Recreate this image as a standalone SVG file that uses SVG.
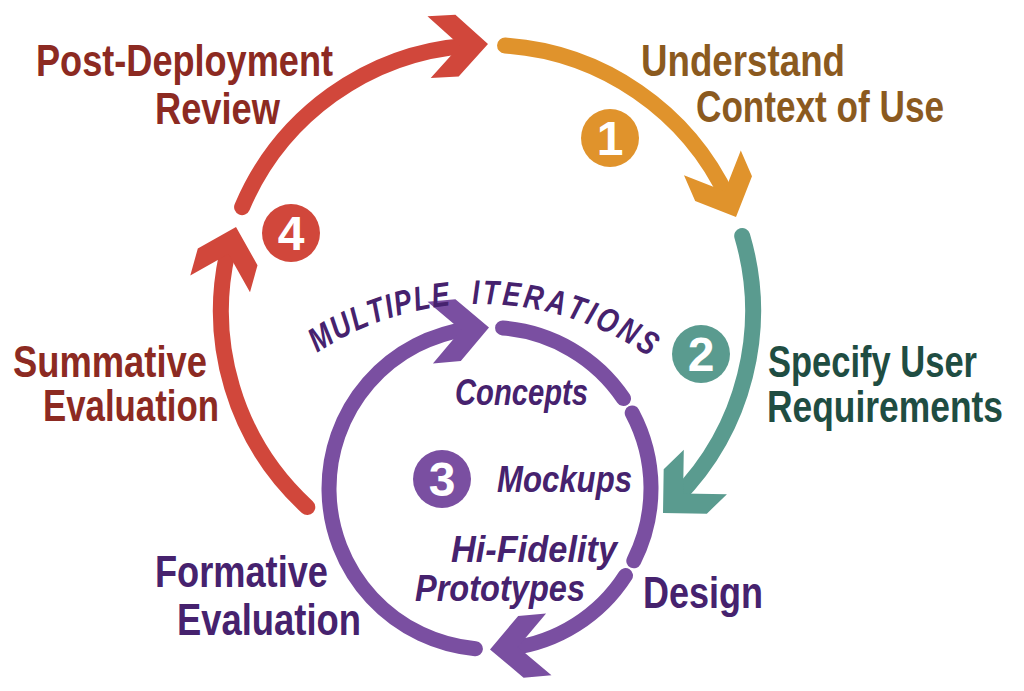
<svg xmlns="http://www.w3.org/2000/svg" xmlns:xlink="http://www.w3.org/1999/xlink" width="1024" height="691" viewBox="0 0 1024 691">
<style>
.lbl{font-family:"Liberation Sans",Arial,sans-serif;font-weight:bold;font-size:45px}
.it{font-family:"Liberation Sans",Arial,sans-serif;font-weight:bold;font-style:italic;font-size:37px;fill:#46226e}
.num{font-family:"Liberation Sans",Arial,sans-serif;font-weight:bold;font-size:48px;fill:#fff;text-anchor:middle}
.ch{font-family:"Liberation Sans",Arial,sans-serif;font-weight:bold;font-style:italic;font-size:34px;fill:#46226e;text-anchor:middle}
.arc{fill:none;stroke-width:16;stroke-linecap:round}
.parc{fill:none;stroke:#7a4fa1;stroke-width:15;stroke-linecap:round}
.red{stroke:#d1473b}.orange{stroke:#e0932c}.teal{stroke:#5a9b8f}
.dred{fill:#8c2a22}.dbrown{fill:#8b5a1f}.dgreen{fill:#1f4d42}.dpurple{fill:#46226e}
</style>
<defs>
<polygon id="head" points="0,0 -31,-31 -59,-31 -28,0 -59,31 -31,31"/>
</defs>
<rect width="1024" height="691" fill="#fff"/>
<g id="connectors">
<path class="arc orange" d="M 505.1 45.6 A 266 266 0 0 1 728.3 199.0"/>
<use href="#head" fill="#e0932c" transform="translate(736,217) rotate(66.4)"/>
<path class="arc teal" d="M 742.2 235.9 A 266 266 0 0 1 676.4 497.8"/>
<use href="#head" fill="#5a9b8f" transform="translate(663,513) rotate(135.9)"/>
<path class="arc red" d="M 307.3 507.1 A 266 266 0 0 1 229.2 245.3"/>
<use href="#head" fill="#d1473b" transform="translate(236,227) rotate(-74.4)"/>
<path class="arc red" d="M 242.1 207.1 A 266 266 0 0 1 467.1 45.7"/>
<use href="#head" fill="#d1473b" transform="translate(488,44) rotate(-3)"/>
<path class="parc" d="M 502.6 328.0 A 161 161 0 0 1 623.5 398.5"/>
<path class="parc" d="M 632.2 412.9 A 161 161 0 0 1 633.8 560.8"/>
<path class="parc" d="M 625.5 575.5 A 161 161 0 0 1 509.9 648.3"/>
<use href="#head" fill="#7a4fa1" transform="translate(490,649.5) rotate(175)"/>
<path class="parc" d="M 475.4 648.8 A 161 161 0 0 1 470.1 328.7"/>
<use href="#head" fill="#7a4fa1" transform="translate(489,327.5) rotate(-5)"/>
</g>
<g id="step1">
<circle cx="610" cy="138" r="29" fill="#e0932c"/>
<text class="num" x="610" y="155">1</text>
<text class="lbl dbrown" x="641" y="76" textLength="204" lengthAdjust="spacingAndGlyphs">Understand</text>
<text class="lbl dbrown" x="696" y="122" textLength="248" lengthAdjust="spacingAndGlyphs">Context of Use</text>
</g>
<g id="step2">
<circle cx="701" cy="354" r="29" fill="#5a9b8f"/>
<text class="num" x="701" y="371">2</text>
<text class="lbl dgreen" x="768" y="377" textLength="209" lengthAdjust="spacingAndGlyphs">Specify User</text>
<text class="lbl dgreen" x="767" y="422" textLength="236" lengthAdjust="spacingAndGlyphs">Requirements</text>
</g>
<g id="step3">
<circle cx="442" cy="479" r="29" fill="#7a4fa1"/>
<text class="num" x="442" y="496">3</text>
<text class="lbl dpurple" x="643" y="608" textLength="120" lengthAdjust="spacingAndGlyphs">Design</text>
<text class="it" x="455" y="405" textLength="133" lengthAdjust="spacingAndGlyphs">Concepts</text>
<text class="it" x="497" y="492" textLength="135" lengthAdjust="spacingAndGlyphs">Mockups</text>
<text class="it" x="451" y="562" textLength="166" lengthAdjust="spacingAndGlyphs">Hi-Fidelity</text>
<text class="it" x="415" y="601" textLength="170" lengthAdjust="spacingAndGlyphs">Prototypes</text>
</g>
<g id="iterations">
<text class="ch" transform="translate(480 600) rotate(-31.25) translate(0 -296) scale(0.78 1)">M</text>
<text class="ch" transform="translate(480 600) rotate(-26.97) translate(0 -296) scale(0.78 1)">U</text>
<text class="ch" transform="translate(480 600) rotate(-23.25) translate(0 -296) scale(0.78 1)">L</text>
<text class="ch" transform="translate(480 600) rotate(-19.83) translate(0 -296) scale(0.78 1)">T</text>
<text class="ch" transform="translate(480 600) rotate(-17.25) translate(0 -296) scale(0.78 1)">I</text>
<text class="ch" transform="translate(480 600) rotate(-14.54) translate(0 -296) scale(0.78 1)">P</text>
<text class="ch" transform="translate(480 600) rotate(-10.97) translate(0 -296) scale(0.78 1)">L</text>
<text class="ch" transform="translate(480 600) rotate(-7.4) translate(0 -296) scale(0.78 1)">E</text>
<text class="ch" transform="translate(480 600) rotate(-0.8) translate(0 -296) scale(0.78 1)">I</text>
<text class="ch" transform="translate(480 600) rotate(2.06) translate(0 -296) scale(0.78 1)">T</text>
<text class="ch" transform="translate(480 600) rotate(5.93) translate(0 -296) scale(0.78 1)">E</text>
<text class="ch" transform="translate(480 600) rotate(10.07) translate(0 -296) scale(0.78 1)">R</text>
<text class="ch" transform="translate(480 600) rotate(14.36) translate(0 -296) scale(0.78 1)">A</text>
<text class="ch" transform="translate(480 600) rotate(18.36) translate(0 -296) scale(0.78 1)">T</text>
<text class="ch" transform="translate(480 600) rotate(21.23) translate(0 -296) scale(0.78 1)">I</text>
<text class="ch" transform="translate(480 600) rotate(24.52) translate(0 -296) scale(0.78 1)">O</text>
<text class="ch" transform="translate(480 600) rotate(28.95) translate(0 -296) scale(0.78 1)">N</text>
<text class="ch" transform="translate(480 600) rotate(33.09) translate(0 -296) scale(0.78 1)">S</text>
</g>
<g id="formative">
<text class="lbl dpurple" x="155" y="587" textLength="173" lengthAdjust="spacingAndGlyphs">Formative</text>
<text class="lbl dpurple" x="177" y="635" textLength="184" lengthAdjust="spacingAndGlyphs">Evaluation</text>
</g>
<g id="summative">
<text class="lbl dred" x="13" y="377" textLength="194" lengthAdjust="spacingAndGlyphs">Summative</text>
<text class="lbl dred" x="43" y="421" textLength="176" lengthAdjust="spacingAndGlyphs">Evaluation</text>
</g>
<g id="step4">
<circle cx="291" cy="233" r="29" fill="#d1473b"/>
<text class="num" x="291" y="250">4</text>
<text class="lbl dred" x="36" y="76" textLength="297" lengthAdjust="spacingAndGlyphs">Post-Deployment</text>
<text class="lbl dred" x="155" y="124" textLength="125" lengthAdjust="spacingAndGlyphs">Review</text>
</g>
</svg>
